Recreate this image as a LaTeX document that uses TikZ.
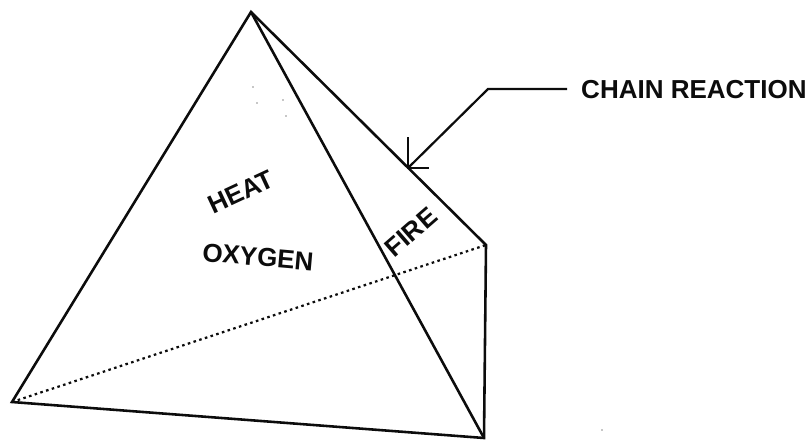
\documentclass[tikz,border=0pt]{standalone}
\usepackage{fontspec}
\setmainfont{Liberation Sans}
\definecolor{FireInk}{HTML}{0C0C0C}
\tikzset{
  figlabel/.style={font=\fontsize{22.2}{24}\selectfont\bfseries, text=FireInk, inner sep=0pt},
  figedge/.style={draw=FireInk, line width=2.2pt, line join=miter},
  figthin/.style={draw=FireInk, line width=1.9pt},
  fighidden/.style={draw=FireInk, line width=1.9pt, dash pattern=on 2.2pt off 2.9pt}
}
\begin{document}
\begin{tikzpicture}[x=0.03cm,y=-0.03cm]
\useasboundingbox (0,0) rectangle (807,440);
\coordinate (apex) at (251,12);
\coordinate (left) at (12,402);
\coordinate (right) at (486,245);
\coordinate (bottom) at (484,438);
\coordinate (hit) at (408,168);
\coordinate (bend) at (488,89);
\coordinate (lead) at (567,89);
\coordinate (barbup) at (408,137);
\coordinate (barbside) at (429,168);
\draw[fighidden] (left) -- (right);
\draw[figedge] (apex) -- (left) -- (bottom) -- (right) -- cycle;
\draw[figedge] (apex) -- (bottom);
% leader and its open head
\draw[figthin] (lead) -- (bend) -- (hit);
\draw[figthin] (barbup) -- (hit) -- (barbside);
\node[figlabel, anchor=west] (chain) at (581,90) {CHAIN REACTION};
\node[figlabel, rotate=25] (heat) at (241,192) {HEAT};
\node[figlabel, rotate=-5] (oxygen) at (258,257) {OXYGEN};
\node[figlabel, rotate=41] (fire) at (411,232) {FIRE};
\foreach \x/\y in {253/87,257/103,283/100,286/116,602/430} {
  \fill[FireInk] (\x,\y) circle (0.6pt);
}
\end{tikzpicture}
\end{document}
